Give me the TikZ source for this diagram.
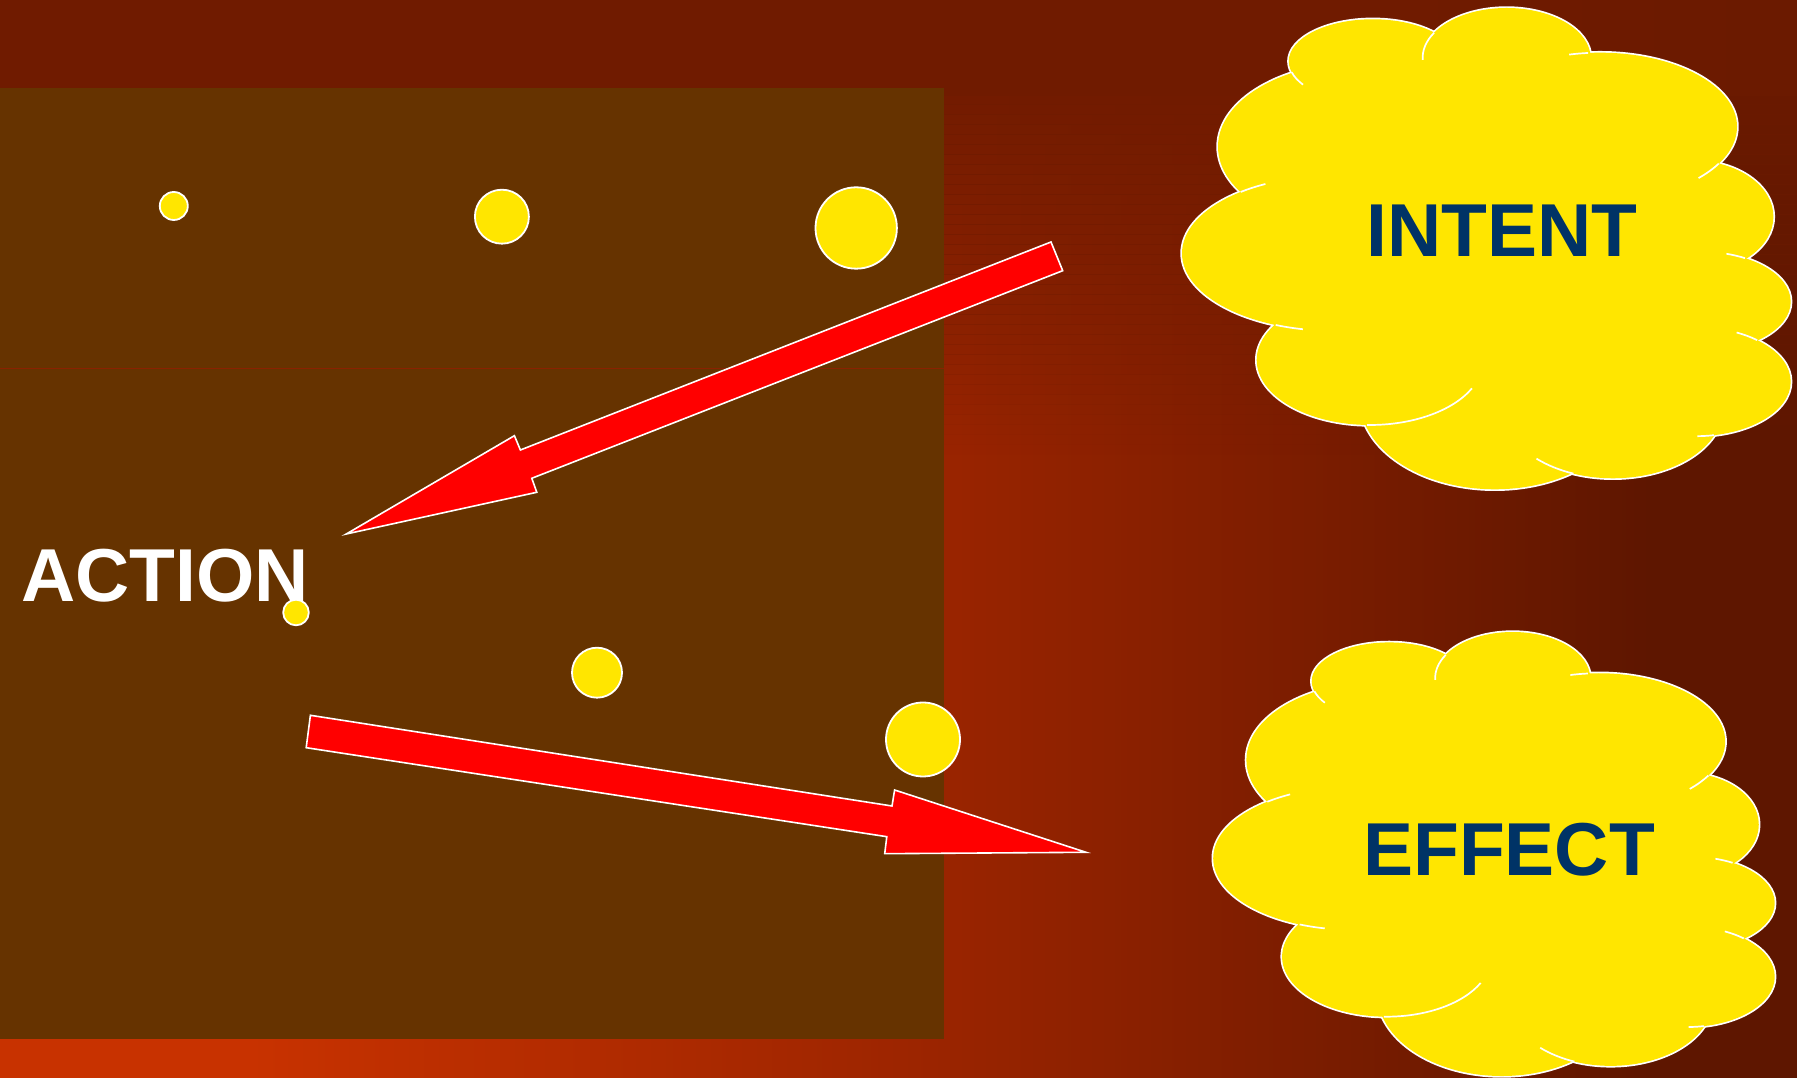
\documentclass[tikz,border=0pt]{standalone}
\usepackage{fontspec}
\setmainfont{Liberation Sans}
\definecolor{bgorange}{HTML}{C83200}
\definecolor{bgmid}{HTML}{9A2400}
\definecolor{bgdark}{HTML}{5E1600}
\definecolor{topA}{HTML}{701B00}
\definecolor{topB}{HTML}{5E1600}
\definecolor{boxbrown}{HTML}{663300}
\definecolor{sepred}{HTML}{8A2200}
\definecolor{navy}{HTML}{003366}
\definecolor{sunyellow}{HTML}{FFE600}
\definecolor{arrowred}{HTML}{FF0000}
\pgfdeclarehorizontalshading{topshade}{100bp}{color(0bp)=(topA); color(64bp)=(topA); color(100bp)=(topB)}
\tikzset{
  blockarrow/.style={fill=arrowred, draw=white, line width=1.6pt},
  dot/.style={fill=sunyellow, draw=white, line width=1.8pt},
  lbl/.style={inner sep=0pt, font=\fontsize{75}{90}\selectfont\bfseries},
  cloudline/.style={draw=white, line width=1.7pt}
}
\newcommand\cloudparts[1]{%
  \foreach \cx/\cy/\rx/\ry in {1333/253.3/151/77.5, 1362/146.7/144/84.4,
      1372.8/61.3/84/42, 1506.6/58/84/50, 1600/126.7/137/74,
      1693.4/216.7/80/56, 1700.7/301.7/90/50, 1695.7/381.7/95/54.5,
      1612.9/408.3/110/70, 1494.8/399.3/135/90, 1370/360/113.3/65}
    {\path[#1] (\cx,\cy) ellipse[x radius=\rx, y radius=\ry];}%
}
\newcommand\cloudshape{%
  \cloudparts{draw=white, line width=3.4pt}
  \cloudparts{fill=sunyellow}
  \fill[sunyellow] (1241,192.3) -- (1294.1,72.3) -- (1433.8,32.7) -- (1588.1,51.7)
    -- (1719.9,164) -- (1745.5,257.7) -- (1757.3,340) -- (1714,435)
    -- (1573.5,473.3) -- (1366.9,425) -- (1274.4,326.7) -- cycle;
  \foreach \cx/\cy/\rx/\ry/\sa/\ea in {1333/253.3/151/77.5/-127.7/-116.6,
      1372.8/61.3/84/42/164.8/146.2, 1506.6/58/84/50/210.3/177.7,
      1600/126.7/137/74/-95/-103, 1600/126.7/137/74/29.9/44,
      1700.7/301.7/90/50/-60.5/-73.4, 1695.7/381.7/95/54.5/-49.7/-64.5,
      1695.7/381.7/95/54.5/79/89, 1612.9/408.3/110/70/111/134,
      1370/360/113.3/65/91.5/25.9, 1333/253.3/151/77.5/112.3/101.5}
    {\draw[cloudline] ([shift={({\rx*cos(\sa)},{\ry*sin(\sa)})}]\cx,\cy)
       arc[start angle=\sa, end angle=\ea, x radius=\rx, y radius=\ry];}%
}
\begin{document}
\begin{tikzpicture}[x=1pt,y=1pt]
\useasboundingbox (0,0) rectangle (1797,1078);
% background gradient (page coordinates, y up)
\fill[bgorange] (0,0) rectangle (251,1078);
\shade[left color=bgorange, right color=bgmid] (250,0) rectangle (945,1078);
\shade[left color=bgmid, right color=bgdark] (944,0) rectangle (1651,1078);
\fill[bgdark] (1650,0) rectangle (1797,1078);
% darker band along the top, fading out downwards
\shade[shading=topshade] (0,1078) rectangle (1797,982);
\foreach \i in {0,...,35}{%
  \pgfmathsetmacro\op{0.93*(1-(\i+0.5)/36)}%
  \shade[shading=topshade, opacity=\op] (0,{983-10*\i}) rectangle (1797,{973-10*\i});
}
\begin{scope}[shift={(0,1078)}, yscale=-1]
  % brown panel
  \fill[boxbrown] (0,88) rectangle (944,1039);
  \draw[sepred, line width=1pt] (0,369) -- (944,369);
  % clouds
  \cloudshape
  \begin{scope}[shift={(1213.2,632.3)}, scale=0.9225, shift={(-1182,-8.3)}]
    \cloudshape
  \end{scope}
  % arrows
  \draw[blockarrow] (1051,242) -- (520.4,450) -- (514.4,435.7) -- (346.3,534)
     -- (536.8,492.3) -- (531.8,478.3) -- (1062.7,270.7) -- cycle;
  \draw[blockarrow] (310.4,715.3) -- (892,806) -- (894.6,790) -- (1086,852.3)
     -- (884.7,853.7) -- (886.8,836.7) -- (306.2,747.7) -- cycle;
  % small dots
  \draw[dot] (173.8,206) circle[radius=14];
  \draw[dot] (501.9,216.7) circle[radius=27];
  \draw[dot] (856.2,228) circle[radius=40.7];
  \draw[dot] (597,672.7) circle[radius=25];
  \draw[dot] (923,739.5) circle[radius=37];
  % labels
  \node[lbl, text=white, anchor=base west] (action) at (21,601.7) {ACTION};
  \node[lbl, text=navy, anchor=base] (intent) at (1502,256.7) {INTENT};
  \node[lbl, text=navy, anchor=base] (effect) at (1509,876) {EFFECT};
  \draw[dot] (296,612.5) circle[radius=12.8];
\end{scope}
\end{tikzpicture}
\end{document}
